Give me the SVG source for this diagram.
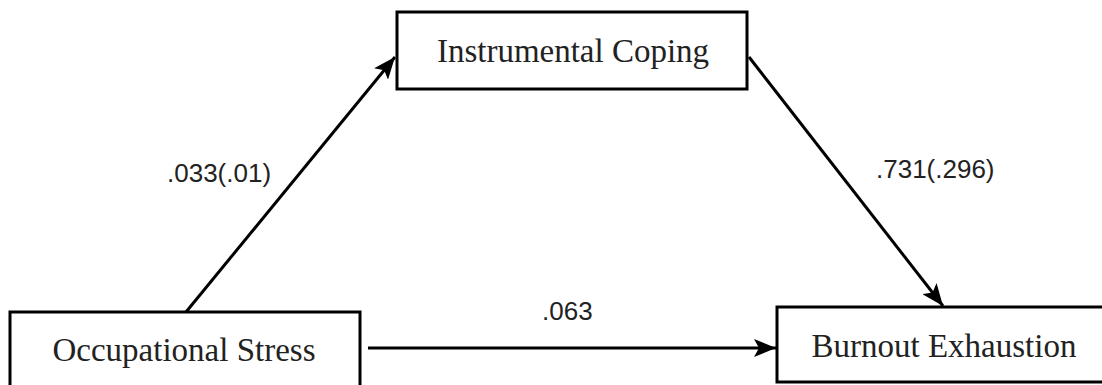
<svg xmlns="http://www.w3.org/2000/svg" width="1102" height="385" viewBox="0 0 1102 385">
  <defs>
    <style>
      .box { fill: #ffffff; stroke: #000000; stroke-width: 3; }
      .node-label { font-family: "Liberation Serif", "Times New Roman", serif; font-size: 33px; fill: #222222; text-anchor: middle; }
      .edge { stroke: #000000; stroke-width: 3; fill: none; marker-end: url(#arrow); }
      .edge-label { font-family: "Liberation Sans", Arial, sans-serif; font-size: 26px; fill: #222222; }
    </style>
    <marker id="arrow" markerUnits="userSpaceOnUse" markerWidth="24" markerHeight="18" refX="22" refY="9" orient="auto">
      <path d="M0,0 L22,9 L0,18 L5,9 Z" fill="#000000"/>
    </marker>
  </defs>
  <rect width="1102" height="385" fill="#ffffff"/>
  <g id="connectors">
    <line class="edge" x1="186" y1="312" x2="395" y2="57"/>
    <line class="edge" x1="749" y1="57" x2="943" y2="306"/>
    <line class="edge" x1="368" y1="348" x2="776" y2="348"/>
    <text class="edge-label" x="167" y="182">.033(.01)</text>
    <text class="edge-label" x="876" y="178">.731(.296)</text>
    <text class="edge-label" x="542" y="320">.063</text>
  </g>
  <g id="node-instrumental">
    <rect class="box" x="397" y="12" width="350" height="77"/>
    <text class="node-label" x="573" y="62">Instrumental Coping</text>
  </g>
  <g id="node-occupational">
    <rect class="box" x="10" y="312" width="350" height="80"/>
    <text class="node-label" x="184" y="361">Occupational Stress</text>
  </g>
  <g id="node-burnout">
    <rect class="box" x="777" y="307" width="340" height="75"/>
    <text class="node-label" x="944" y="357">Burnout Exhaustion</text>
  </g>
</svg>
